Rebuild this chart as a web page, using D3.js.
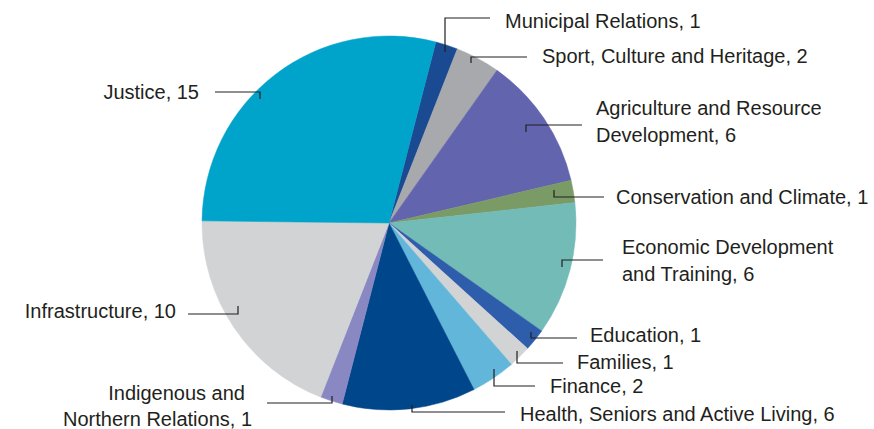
<!DOCTYPE html>
<html>
<head>
<meta charset="utf-8">
<script src="https://cdn.jsdelivr.net/npm/d3@7"></script>
<style>
  body { margin: 0; background: #fff; }
  text { font-family: "Liberation Sans", Arial, sans-serif; font-size: 20px; fill: #231f20; }
</style>
</head>
<body>
<div id="chart"></div>
<script>
// departments, clockwise starting just right of 12 o'clock
var departments = ['Municipal Relations', 'Sport, Culture and Heritage', 'Agriculture and Resource Development',
  'Conservation and Climate', 'Economic Development and Training', 'Education', 'Families', 'Finance',
  'Health, Seniors and Active Living', 'Indigenous and Northern Relations', 'Infrastructure', 'Justice']
var counts = [1, 2, 6, 1, 6, 1, 1, 2, 6, 1, 10, 15]
var sliceColors = ['#1a4a91', '#a7a9ac', '#6264ae', '#7a9a66', '#72bbb7', '#2e5eab',
  '#d1d3d4', '#62b6da', '#00468b', '#8a88c3', '#d1d3d4', '#00a3ca']

// label text lines (wrapped like the original)
var labelLines = [
  ['Municipal Relations, 1'],
  ['Sport, Culture and Heritage, 2'],
  ['Agriculture and Resource', 'Development, 6'],
  ['Conservation and Climate, 1'],
  ['Economic Development', 'and Training, 6'],
  ['Education, 1'],
  ['Families, 1'],
  ['Finance, 2'],
  ['Health, Seniors and Active Living, 6'],
  ['Indigenous and', 'Northern Relations, 1'],
  ['Infrastructure, 10'],
  ['Justice, 15']
]

// label layout: text anchor x, baselines, leader line [label end x, line y, elbow x, tick y]
var labelLayout = [
  { x: 505, anchor: 'start', base: [28], lead: [490, 18, 445, 52] },
  { x: 542, anchor: 'start', base: [63], lead: [527, 57, 471, 63] },
  { x: 596, anchor: 'start', base: [115, 142], lead: [582, 125, 526, 132] },
  { x: 616, anchor: 'start', base: [204], lead: [604, 197, 554, 190] },
  { x: 622, anchor: 'start', base: [254, 281], lead: [603, 260, 562, 267] },
  { x: 590, anchor: 'start', base: [342], lead: [577, 338, 531, 332] },
  { x: 577, anchor: 'start', base: [369], lead: [563, 363, 517, 351] },
  { x: 550, anchor: 'start', base: [393], lead: [535, 386, 494, 369] },
  { x: 520, anchor: 'start', base: [421], lead: [505, 412, 412, 405] },
  { x: [245, 252], anchor: 'end', base: [400, 426], lead: [267, 403, 332, 396] },
  { x: 176, anchor: 'end', base: [318], lead: [188, 314, 238, 306] },
  { x: 199, anchor: 'end', base: [99], lead: [215, 92, 260, 99] }
]

var width = 874
var height = 429
var cx = 389
var cy = 223
var radius = 187
var startDeg = 14.5

var svg = d3.select('#chart')
  .append('svg')
  .attr('width', width)
  .attr('height', height)

var pie = d3.pie()
  .sort(null)
  .value(function (d) { return d })
  .startAngle(startDeg * Math.PI / 180)
  .endAngle(startDeg * Math.PI / 180 + 2 * Math.PI)

var arc = d3.arc().innerRadius(0).outerRadius(radius)

svg.append('g')
  .attr('transform', 'translate(' + cx + ',' + cy + ')')
  .selectAll('path')
  .data(pie(counts))
  .enter()
  .append('path')
  .attr('d', arc)
  .style('fill', function (d, i) { return sliceColors[i] })
  .style('stroke', function (d, i) { return sliceColors[i] })
  .style('stroke-width', 0.5)

// leader lines
svg.append('g')
  .selectAll('path')
  .data(labelLayout)
  .enter()
  .append('path')
  .attr('d', function (d) {
    var l = d.lead
    return 'M' + l[0] + ',' + l[1] + 'H' + l[2] + 'V' + l[3]
  })
  .style('fill', 'none')
  .style('stroke', '#231f20')
  .style('stroke-width', 1.2)

// labels
labelLayout.forEach(function (lay, i) {
  var t = svg.append('text').attr('text-anchor', lay.anchor)
  labelLines[i].forEach(function (line, j) {
    t.append('tspan')
      .attr('x', Array.isArray(lay.x) ? lay.x[j] : lay.x)
      .attr('y', lay.base[j])
      .text(line)
  })
})
</script>
</body>
</html>
